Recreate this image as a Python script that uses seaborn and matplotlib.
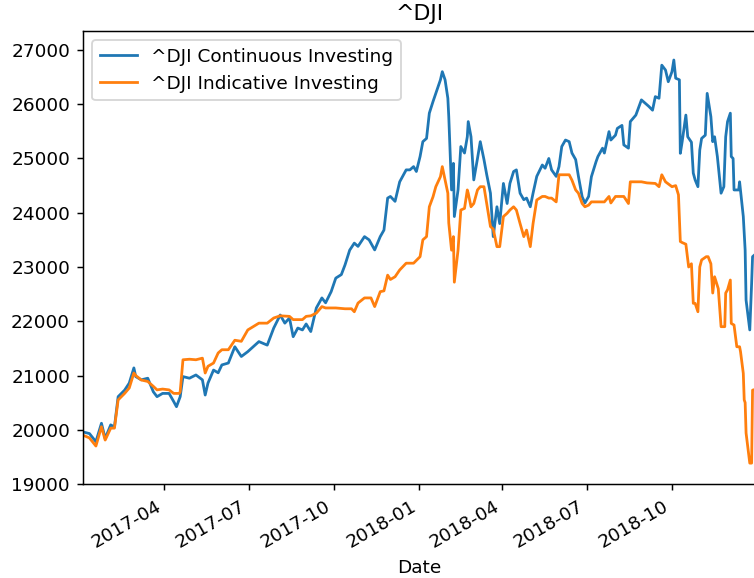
import pandas as pd
import matplotlib
matplotlib.use("Agg")
import matplotlib.pyplot as plt
import matplotlib.dates as mdates
import seaborn as sns

# values
cont_dates = [
    "2017-01-03", "2017-01-10", "2017-01-17", "2017-01-23", "2017-01-27", "2017-02-02",
    "2017-02-06", "2017-02-10", "2017-02-17", "2017-02-22", "2017-02-27", "2017-03-01",
    "2017-03-07", "2017-03-14", "2017-03-20", "2017-03-24", "2017-03-30", "2017-04-06",
    "2017-04-11", "2017-04-14", "2017-04-18", "2017-04-21", "2017-04-28", "2017-05-05",
    "2017-05-12", "2017-05-15", "2017-05-18", "2017-05-24", "2017-05-29", "2017-06-02",
    "2017-06-09", "2017-06-16", "2017-06-23", "2017-06-30", "2017-07-12", "2017-07-21",
    "2017-07-28", "2017-08-04", "2017-08-09", "2017-08-14", "2017-08-18", "2017-08-23",
    "2017-08-28", "2017-09-01", "2017-09-06", "2017-09-12", "2017-09-18", "2017-09-22",
    "2017-09-28", "2017-10-03", "2017-10-09", "2017-10-13", "2017-10-18", "2017-10-23",
    "2017-10-27", "2017-11-03", "2017-11-08", "2017-11-14", "2017-11-20", "2017-11-24",
    "2017-11-28", "2017-12-01", "2017-12-06", "2017-12-11", "2017-12-18", "2017-12-22",
    "2017-12-26", "2017-12-29", "2018-01-02", "2018-01-05", "2018-01-09", "2018-01-12",
    "2018-01-16", "2018-01-19", "2018-01-24", "2018-01-26", "2018-01-29", "2018-02-01",
    "2018-02-02", "2018-02-05", "2018-02-07", "2018-02-08", "2018-02-12", "2018-02-15",
    "2018-02-19", "2018-02-22", "2018-02-23", "2018-02-26", "2018-03-01", "2018-03-05",
    "2018-03-08", "2018-03-12", "2018-03-15", "2018-03-19", "2018-03-22", "2018-03-26",
    "2018-03-29", "2018-04-02", "2018-04-06", "2018-04-09", "2018-04-13", "2018-04-16",
    "2018-04-20", "2018-04-24", "2018-04-27", "2018-05-01", "2018-05-04", "2018-05-08",
    "2018-05-14", "2018-05-17", "2018-05-21", "2018-05-24", "2018-05-29", "2018-06-01",
    "2018-06-04", "2018-06-08", "2018-06-12", "2018-06-15", "2018-06-19", "2018-06-22",
    "2018-06-26", "2018-06-29", "2018-07-03", "2018-07-06", "2018-07-11", "2018-07-13",
    "2018-07-18", "2018-07-20", "2018-07-25", "2018-07-27", "2018-08-01", "2018-08-03",
    "2018-08-08", "2018-08-10", "2018-08-15", "2018-08-17", "2018-08-23", "2018-08-27",
    "2018-08-29", "2018-09-04", "2018-09-06", "2018-09-10", "2018-09-13", "2018-09-17",
    "2018-09-20", "2018-09-24", "2018-09-27", "2018-10-01", "2018-10-03", "2018-10-05",
    "2018-10-09", "2018-10-10", "2018-10-12", "2018-10-16", "2018-10-18", "2018-10-22",
    "2018-10-24", "2018-10-26", "2018-10-29", "2018-10-31", "2018-11-02", "2018-11-06",
    "2018-11-08", "2018-11-12", "2018-11-14", "2018-11-16", "2018-11-19", "2018-11-23",
    "2018-11-26", "2018-11-28", "2018-11-30", "2018-12-03", "2018-12-04", "2018-12-06",
    "2018-12-07", "2018-12-12", "2018-12-13", "2018-12-17", "2018-12-18", "2018-12-19",
    "2018-12-20", "2018-12-24", "2018-12-26", "2018-12-27", "2018-12-31",
]
cont_values = [
    19960, 19930, 19780, 20120, 19840, 20090,
    20050, 20610, 20730, 20860, 21140, 20980,
    20920, 20950, 20700, 20610, 20670, 20670,
    20520, 20425, 20610, 20980, 20950, 21010,
    20920, 20640, 20860, 21100, 21050, 21195,
    21230, 21530, 21350, 21440, 21625, 21560,
    21875, 22115, 21965, 22060, 21715, 21875,
    21840, 21950, 21810, 22245, 22430, 22340,
    22545, 22795, 22860, 23040, 23310, 23440,
    23380, 23560, 23500, 23315, 23560, 23680,
    24270, 24300, 24210, 24570, 24790, 24790,
    24850, 24760, 25035, 25310, 25370, 25835,
    26050, 26200, 26450, 26600, 26450, 26110,
    25770, 24420, 24910, 23930, 24420, 25220,
    25100, 25400, 25680, 25400, 24605, 25000,
    25310, 24980, 24700, 24360, 23560, 24110,
    23800, 24540, 24170, 24540, 24760, 24790,
    24360, 24240, 24270, 24110, 24360, 24670,
    24880, 24820, 25000, 24790, 24670, 24850,
    25220, 25340, 25310, 25100, 24980, 24670,
    24295, 24180, 24300, 24665, 24940, 25035,
    25190, 25100, 25495, 25340, 25430, 25555,
    25610, 25250, 25190, 25680, 25800, 25990,
    26080, 25990, 25960, 25890, 26140, 26110,
    26720, 26630, 26415, 26600, 26815, 26480,
    26450, 25095, 25310, 25800, 25400, 25300,
    24730, 24605, 24480, 25155, 25370, 25430,
    26200, 25770, 25310, 25400, 25035, 24360,
    24480, 25400, 25680, 25835, 25035, 25000,
    24420, 24420, 24570, 23930, 23620, 23310,
    22390, 21840, 22700, 23190, 23250,
]

ind_dates = [
    "2017-01-03", "2017-01-10", "2017-01-17", "2017-01-23", "2017-01-27", "2017-02-02",
    "2017-02-06", "2017-02-10", "2017-02-17", "2017-02-22", "2017-02-27", "2017-03-01",
    "2017-03-07", "2017-03-14", "2017-03-20", "2017-03-24", "2017-03-30", "2017-04-06",
    "2017-04-11", "2017-04-17", "2017-04-18", "2017-04-21", "2017-04-28", "2017-05-05",
    "2017-05-12", "2017-05-15", "2017-05-18", "2017-05-24", "2017-05-29", "2017-06-02",
    "2017-06-09", "2017-06-16", "2017-06-23", "2017-06-30", "2017-07-12", "2017-07-21",
    "2017-07-28", "2017-08-04", "2017-08-14", "2017-08-18", "2017-08-28", "2017-09-01",
    "2017-09-06", "2017-09-12", "2017-09-18", "2017-09-22", "2017-10-03", "2017-10-13",
    "2017-10-20", "2017-10-23", "2017-10-27", "2017-11-03", "2017-11-10", "2017-11-14",
    "2017-11-20", "2017-11-24", "2017-11-28", "2017-12-01", "2017-12-06", "2017-12-11",
    "2017-12-18", "2017-12-26", "2018-01-02", "2018-01-05", "2018-01-09", "2018-01-12",
    "2018-01-16", "2018-01-19", "2018-01-24", "2018-01-26", "2018-01-29", "2018-02-01",
    "2018-02-02", "2018-02-05", "2018-02-07", "2018-02-08", "2018-02-12", "2018-02-15",
    "2018-02-19", "2018-02-22", "2018-02-23", "2018-02-26", "2018-03-01", "2018-03-05",
    "2018-03-08", "2018-03-12", "2018-03-15", "2018-03-19", "2018-03-22", "2018-03-26",
    "2018-03-29", "2018-04-02", "2018-04-06", "2018-04-09", "2018-04-13", "2018-04-16",
    "2018-04-20", "2018-04-24", "2018-04-27", "2018-05-01", "2018-05-04", "2018-05-08",
    "2018-05-14", "2018-05-17", "2018-05-21", "2018-05-24", "2018-05-29", "2018-06-01",
    "2018-06-08", "2018-06-12", "2018-06-15", "2018-06-19", "2018-06-22", "2018-06-26",
    "2018-06-29", "2018-07-03", "2018-07-06", "2018-07-20", "2018-07-25", "2018-07-27",
    "2018-08-01", "2018-08-10", "2018-08-15", "2018-08-17", "2018-08-29", "2018-09-04",
    "2018-09-13", "2018-09-17", "2018-09-20", "2018-09-24", "2018-10-01", "2018-10-05",
    "2018-10-08", "2018-10-10", "2018-10-12", "2018-10-16", "2018-10-19", "2018-10-22",
    "2018-10-24", "2018-10-26", "2018-10-29", "2018-10-31", "2018-11-02", "2018-11-07",
    "2018-11-09", "2018-11-12", "2018-11-14", "2018-11-16", "2018-11-20", "2018-11-23",
    "2018-11-27", "2018-11-28", "2018-11-30", "2018-12-03", "2018-12-04", "2018-12-07",
    "2018-12-10", "2018-12-13", "2018-12-14", "2018-12-17", "2018-12-18", "2018-12-19",
    "2018-12-20", "2018-12-24", "2018-12-26", "2018-12-27", "2018-12-31",
]
ind_values = [
    19900, 19850, 19700, 20056, 19810, 20030,
    20030, 20550, 20670, 20770, 21046, 21000,
    20917, 20890, 20800, 20735, 20750, 20735,
    20670, 20670, 20700, 21290, 21300, 21290,
    21320, 21046, 21170, 21230, 21415, 21475,
    21475, 21650, 21630, 21840, 21965, 21965,
    22060, 22100, 22090, 22030, 22030, 22090,
    22100, 22150, 22270, 22245, 22245, 22230,
    22230, 22175, 22335, 22430, 22430, 22270,
    22545, 22560, 22850, 22770, 22820, 22945,
    23070, 23070, 23190, 23500, 23560, 24110,
    24295, 24480, 24665, 24850, 24600, 24360,
    23810, 23310, 23560, 22720, 23310, 24050,
    24080, 24420, 24360, 24110, 24170, 24420,
    24480, 24480, 24170, 23745, 23700, 23375,
    23375, 23930, 23990, 24050, 24110, 24050,
    23800, 23560, 23680, 23375, 23800, 24235,
    24300, 24300, 24270, 24270, 24200, 24700,
    24700, 24700, 24600, 24420, 24360, 24170,
    24110, 24140, 24200, 24200, 24300, 24180,
    24300, 24300, 24170, 24570, 24570, 24550,
    24540, 24480, 24700, 24570, 24480, 24500,
    24330, 23470, 23450, 23420, 23000, 23060,
    22330, 22330, 22175, 23000, 23130, 23190,
    23190, 23060, 22520, 22820, 22600, 21900,
    21900, 22520, 22580, 22760, 21960, 21930,
    21530, 21530, 21440, 21040, 20550, 20500,
    19940, 19385, 19385, 20730, 20750,
]

labels = ["^DJI Continuous Investing", "^DJI Indicative Investing"]

df = pd.concat([
    pd.DataFrame({"Date": pd.to_datetime(cont_dates), "Value": cont_values, "Series": labels[0]}),
    pd.DataFrame({"Date": pd.to_datetime(ind_dates), "Value": ind_values, "Series": labels[1]}),
])

# reference looks rendered at ~133 dpi with default font sizes
DPI = 133
fig = plt.figure(figsize=(754 / DPI, 578 / DPI), dpi=DPI)
ax = fig.add_axes([0.110, 0.1626, 0.893, 0.7838])

sns.lineplot(data=df, x="Date", y="Value", hue="Series",
             palette=["#1f77b4", "#ff7f0e"], linewidth=1.5, ax=ax)

ax.set_xlim(df["Date"].min(), df["Date"].max())
ax.set_ylim(19000, 27350)
ax.xaxis.set_major_locator(mdates.MonthLocator(bymonth=[1, 4, 7, 10]))
ax.xaxis.set_major_formatter(mdates.DateFormatter("%Y-%m"))
plt.setp(ax.get_xticklabels(), rotation=30, ha="right")

ax.set_title("^DJI")
ax.set_xlabel("Date")
ax.set_ylabel("")
handles, lbls = ax.get_legend_handles_labels()
ax.legend(handles, lbls, loc="upper left")

fig.savefig("out.png", dpi=DPI)
